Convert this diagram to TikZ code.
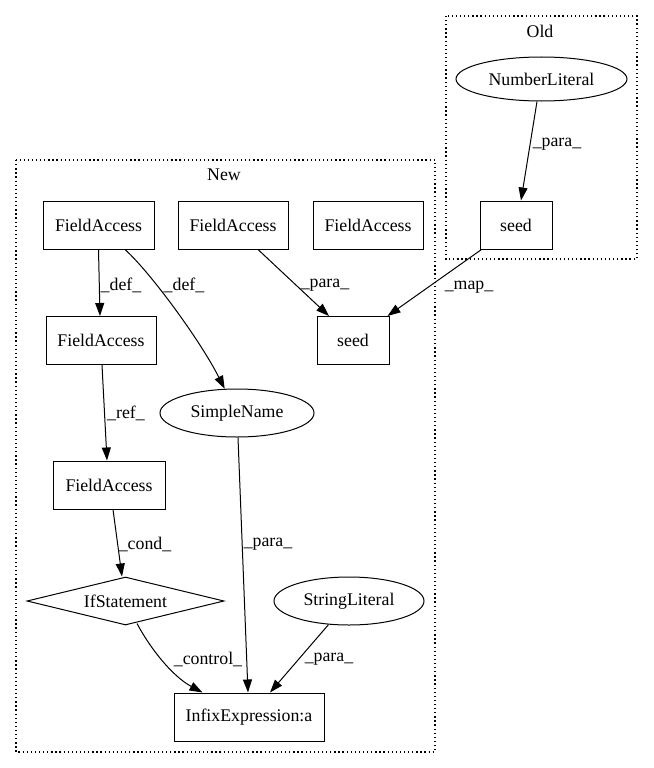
\documentclass[tikz,border=0pt]{standalone}
\usepackage{fontspec}
\setmainfont{Liberation Serif}
\usetikzlibrary{shapes.geometric,arrows.meta}
\begin{document}
\begin{tikzpicture}[x=1pt,y=-1pt,
  every node/.style={font=\fontsize{17.8}{20}\selectfont},
  box/.style={draw, line width=1pt, rectangle, minimum height=48pt, inner sep=0pt},
  ell/.style={draw, line width=1pt, ellipse, minimum height=48pt, inner sep=0pt},
  dia/.style={draw, line width=1pt, diamond, aspect=4, minimum width=197pt, minimum height=48pt, inner sep=0pt},
  lbl/.style={inner sep=0pt},
  arr/.style={line width=1pt, -{Triangle[length=13pt,width=9pt]}},
  cluster/.style={draw, line width=1.1pt, dash pattern=on 1.3pt off 2.8pt}
]
\useasboundingbox (0,0) rectangle (653,768);

% clusters
\draw[cluster] (446,16) rectangle (637,259);
\node[lbl] (oldlbl) at (540,31) {Old};
\draw[cluster] (16,160) rectangle (435,752);
\node[lbl] (newlbl) at (224,175) {New};

% nodes
\node[ell, minimum width=171pt, minimum height=44pt] (nl) at (541.5,79) {NumberLiteral};
\node[box, minimum width=72pt] (so) at (516,225) {seed};
\node[box, minimum width=111pt] (fa1) at (98.5,225) {FieldAccess};
\node[box, minimum width=110pt] (fa2) at (233,225) {FieldAccess};
\node[box, minimum width=110pt] (fa3) at (368,225) {FieldAccess};
\node[box, minimum width=72pt] (sn) at (353,340.5) {seed};
\node[box, minimum width=110pt] (fb) at (101,340.5) {FieldAccess};
\node[ell, minimum width=154pt] (smn) at (237,413) {SimpleName};
\node[box, minimum width=112pt] (fc) at (109,485) {FieldAccess};
\node[dia] (ifs) at (125.5,601) {IfStatement};
\node[ell, minimum width=150pt] (sl) at (349,601) {StringLiteral};
\node[box, minimum width=150pt] (ie) at (249,717) {InfixExpression:a};

% edges
\draw[arr] ([xshift=-4.5pt]nl.south) -- ([xshift=5pt]so.north);
\draw[arr] ([xshift=2pt]so.south west) -- ([xshift=-2pt]sn.north east);
\draw[arr] (fa1.south) -- ([xshift=-1pt]fb.north);
\draw[arr] ([xshift=26.5pt]fa1.south) .. controls (150,272) and (200,340) .. (smn.117);
\draw[arr] ([xshift=25pt]fa2.south) -- ([xshift=-24pt]sn.north);
\draw[arr] ([xshift=1pt]fb.south) -- ([xshift=-2pt]fc.north);
\draw[arr] ([xshift=4pt]fc.south) -- ([xshift=-3.5pt]ifs.north);
\draw[arr] ([xshift=11.5pt,yshift=2pt]ifs.south) .. controls (150,648) and (172,676) .. ([xshift=29pt]ie.north west);
\draw[arr] ([xshift=1pt]smn.south) -- ([xshift=-1pt]ie.north);
\draw[arr] (sl.229) -- ([xshift=21pt]ie.north);

% edge labels
\node[lbl] (l1) at (557,144) {\_para\_};
\node[lbl] (l2) at (469,287) {\_map\_};
\node[lbl] (l3) at (121,285) {\_def\_};
\node[lbl] (l4) at (184,285) {\_def\_};
\node[lbl] (l5) at (325,285) {\_para\_};
\node[lbl] (l6) at (126,413) {\_ref\_};
\node[lbl] (l7) at (145,544) {\_cond\_};
\node[lbl] (l8) at (268,544) {\_para\_};
\node[lbl] (l9) at (208,659) {\_control\_};
\node[lbl] (l10) at (329,659) {\_para\_};
\end{tikzpicture}
\end{document}
